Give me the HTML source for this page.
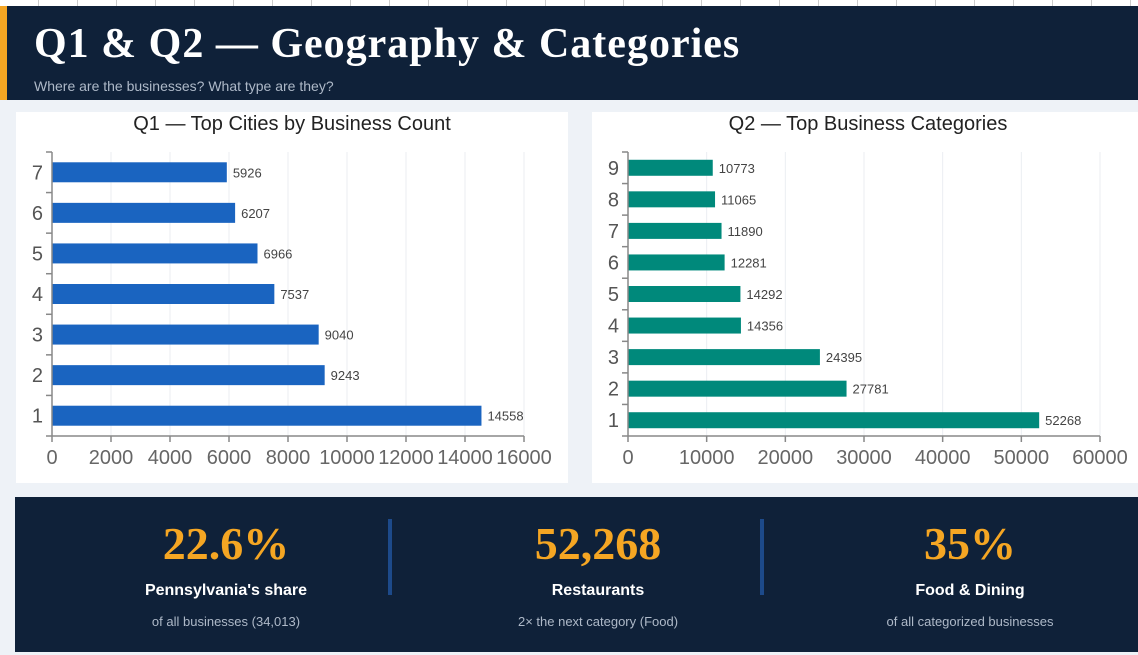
<!DOCTYPE html>
<html><head><meta charset="utf-8"><style>
body{margin:0;width:1138px;height:655px;background:#eef2f7;position:relative;overflow:hidden;font-family:"Liberation Sans",sans-serif}
.hdr{position:absolute;left:0;top:6px;width:1138px;height:94px;background:#0f2139}
.hdr .acc{position:absolute;left:0;top:0;width:7px;height:94px;background:#f5a623}
.hdr h1{position:absolute;left:34px;top:14px;margin:0;font:bold 42px "Liberation Serif",serif;color:#fff;letter-spacing:1px}
.hdr p{position:absolute;left:34px;top:72px;margin:0;font-size:14px;color:#aeb9c8}
.panel{position:absolute;background:#fff}
.kpi{position:absolute;left:15px;top:497px;width:1123px;height:155px;background:#0f2139}
.k{position:absolute;width:372px;text-align:center}
.k .v{font:bold 46px "Liberation Serif",serif;color:#f5a623;margin-top:20px}
.k .l{font:bold 16px "Liberation Sans",sans-serif;color:#fff;margin-top:12px}
.k .s{font-size:13px;color:#aeb9c8;margin-top:14px}
.div{position:absolute;top:22px;width:4px;height:76px;background:#1d4a8a}
</style></head><body>
<div style="position:absolute;left:0;top:0;width:1138px;height:6px;background:repeating-linear-gradient(90deg,#fff 0,#fff 38px,#ccc 38px,#ccc 39px);border-bottom:1px solid #bbb"></div>
<div class="hdr"><div class="acc"></div>
<h1>Q1 &amp; Q2 — Geography &amp; Categories</h1>
<p>Where are the businesses? What type are they?</p></div>
<div class="panel" style="left:16px;top:112px;width:552px;height:371px"></div>
<div class="panel" style="left:592px;top:112px;width:546px;height:371px"></div>
<svg id="svg" width="1138" height="655" style="position:absolute;left:0;top:0"></svg>
<div class="kpi">
<div class="k" style="left:25px"><div class="v">22.6%</div><div class="l">Pennsylvania's share</div><div class="s">of all businesses (34,013)</div></div>
<div class="div" style="left:373px"></div>
<div class="k" style="left:397px"><div class="v">52,268</div><div class="l">Restaurants</div><div class="s">2× the next category (Food)</div></div>
<div class="div" style="left:745px"></div>
<div class="k" style="left:769px"><div class="v">35%</div><div class="l">Food &amp; Dining</div><div class="s">of all categorized businesses</div></div>
</div>
<script>
const q1Cats=[1,2,3,4,5,6,7];
const q1Vals=[14558,9243,9040,7537,6966,6207,5926];
const q1Ticks=[0,2000,4000,6000,8000,10000,12000,14000,16000];
const q2Cats=[1,2,3,4,5,6,7,8,9];
const q2Vals=[52268,27781,24395,14356,14292,12281,11890,11065,10773];
const q2Ticks=[0,10000,20000,30000,40000,50000,60000];
const svg=document.getElementById('svg');
const NS='http://www.w3.org/2000/svg';
function mk(t,a){const e=document.createElementNS(NS,t);for(const k in a)e.setAttribute(k,a[k]);svg.appendChild(e);return e;}
function chart(o){
  const x=v=>o.x0+(v/o.max)*(o.x1-o.x0);
  const n=o.cats.length,step=(o.yb-o.yt)/n;
  const yc=i=>o.yb-step*(i+0.5);
  const t=mk('text',{x:o.tx,y:130,'text-anchor':'middle','font-size':20,fill:'#222'});t.textContent=o.title;
  
  o.ticks.forEach(v=>{
    if(v>0){const g=mk('line',{x1:x(v),x2:x(v),y1:o.yt,y2:o.yb,stroke:'#ebeef2'});}
    mk('line',{x1:x(v),x2:x(v),y1:o.yb,y2:o.yb+6,stroke:'#888','stroke-width':1.5});
    const l=mk('text',{x:x(v),y:o.yb+28,'text-anchor':'middle','font-size':20,fill:'#666'});l.textContent=v;
    
  });
  for(let i=0;i<=n;i++)mk('line',{x1:o.x0-6,x2:o.x0,y1:o.yb-step*i,y2:o.yb-step*i,stroke:'#888','stroke-width':1.5});
  o.vals.forEach((v,i)=>{
    const r=mk('rect',{x:o.x0,y:yc(i)-o.bh/2,width:x(v)-o.x0,height:o.bh,fill:o.color});
    
    const vl=mk('text',{x:x(v)+6,y:yc(i)+5,'font-size':13,fill:'#444'});vl.textContent=v;
    
    const cl=mk('text',{x:o.x0-9,y:yc(i)+7,'text-anchor':'end','font-size':20,fill:'#555'});cl.textContent=o.cats[i];
    
  });
  mk('line',{x1:o.x0,x2:o.x0,y1:o.yt,y2:o.yb,stroke:'#888','stroke-width':1.5});
  mk('line',{x1:o.x0,x2:o.x1,y1:o.yb,y2:o.yb,stroke:'#888','stroke-width':1.5});
}
chart({id:'q1',title:'Q1 — Top Cities by Business Count',tx:292,cats:q1Cats,vals:q1Vals,ticks:q1Ticks,max:16000,x0:52,x1:524,yt:152,yb:436,bh:20,color:'#1a64c0'});
chart({id:'q2',title:'Q2 — Top Business Categories',tx:868,cats:q2Cats,vals:q2Vals,ticks:q2Ticks,max:60000,x0:628,x1:1100,yt:152,yb:436,bh:16,color:'#00897b'});
</script>
</body></html>
